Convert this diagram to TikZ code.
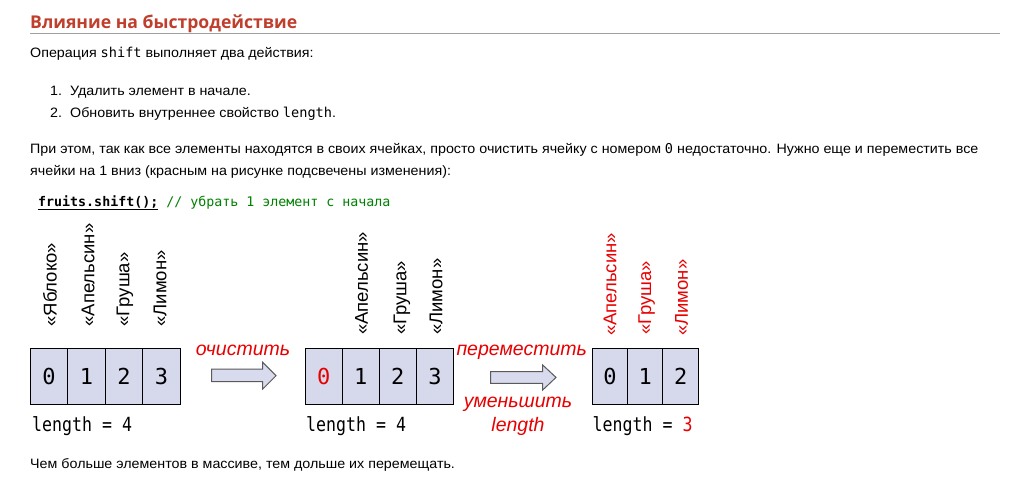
\documentclass[tikz,border=0pt]{standalone}
\usepackage{fontspec}
\setmainfont{Liberation Sans}
\newfontfamily\bodyfont[FakeStretch=1.05]{Liberation Sans}
\newfontfamily\titlefont{Open Sans}
\newfontfamily\codefont{DejaVu Sans Mono}
\newfontfamily\bigcode[FakeStretch=0.85]{DejaVu Sans Mono}
\definecolor{titlered}{RGB}{192,62,44}
\definecolor{rulegray}{RGB}{160,160,160}
\definecolor{cellfill}{RGB}{214,217,236}
\definecolor{arrowfill}{RGB}{216,218,238}
\definecolor{arrowline}{RGB}{90,90,90}
\definecolor{hlred}{RGB}{232,0,0}
\definecolor{codegreen}{RGB}{0,128,0}
\begin{document}
\begin{tikzpicture}[x=1pt,y=-1pt,
  txt/.style={anchor=base west,inner sep=0pt,font=\bodyfont\fontsize{13.6}{16}\selectfont},
  cellbox/.style={draw=black,line width=1pt,fill=cellfill,minimum height=55.7pt,inner sep=0pt,font=\codefont\fontsize{22}{26}\selectfont},
  fruit/.style={rotate=90,anchor=west,inner sep=0pt,font=\fontsize{18.5}{22}\selectfont},
  act/.style={anchor=base,inner sep=0pt,text=hlred,font=\itshape\fontsize{19.5}{23}\selectfont},
  lentxt/.style={anchor=base west,inner sep=0pt,font=\bigcode\fontsize{19.5}{24}\selectfont},
  blockarrow/.style={draw=arrowline,line width=1pt,fill=arrowfill,line join=miter}]
\useasboundingbox (0,0) rectangle (1019,479);
\fill[white] (0,0) rectangle (1019,479);

% heading
\node[txt,text=titlered,font=\titlefont\bfseries\fontsize{17.6}{21}\selectfont] (title) at (30,28.3) {Влияние на быстродействие};
\draw[rulegray,line width=1pt] (30,33.3) -- (1000,33.3);

% text
\node[txt] (p1) at (30,57) {Операция {\codefont shift} выполняет два действия:};
\node[txt] (n1) at (50,95) {1.};
\node[txt] (i1) at (70,95) {Удалить элемент в начале.};
\node[txt] (n2) at (50,117) {2.};
\node[txt] (i2) at (70,117) {Обновить внутреннее свойство {\codefont length}.};
\node[txt] (p2a) at (30,153) {При этом, так как все элементы находятся в своих ячейках, просто очистить ячейку с номером {\codefont 0} недостаточно. Нужно еще и переместить все};
\node[txt] (p2b) at (30,175.5) {ячейки на 1 вниз (красным на рисунке подсвечены изменения):};
\node[txt,font=\codefont\fontsize{13.3}{16}\selectfont] (code) at (38,206) {\textbf{\underline{fruits.shift();}} \textcolor{codegreen}{// убрать 1 элемент с начала}};
\node[txt] (last) at (30,468) {Чем больше элементов в массиве, тем дольше их перемещать.};

% array 1
\node[cellbox,minimum width=37.5pt] (a0) at (49.05,376.15) {0};
\node[cellbox,minimum width=37.5pt] (a1) at (86.55,376.15) {1};
\node[cellbox,minimum width=37.5pt] (a2) at (124.05,376.15) {2};
\node[cellbox,minimum width=37.5pt] (a3) at (161.55,376.15) {3};
\node[fruit] (fa0) at (50,326.7) {«Яблоко»};
\node[fruit] (fa1) at (88,326.7) {«Апельсин»};
\node[fruit] (fa2) at (125,326.7) {«Груша»};
\node[fruit] (fa3) at (160,326.7) {«Лимон»};
\node[lentxt] (lena) at (32,431) {length = 4};

% arrow 1
\draw[blockarrow] (211.7,369) -- (262.7,369) -- (262.7,362.3) -- (276,375.7) -- (262.7,389) -- (262.7,381.7) -- (211.7,381.7) -- cycle;
\node[act] (clr) at (243,355) {очистить};

% array 2
\node[cellbox,minimum width=37.1pt] (b0) at (323.65,376.15) {\textcolor{hlred}{0}};
\node[cellbox,minimum width=37.1pt] (b1) at (360.75,376.15) {1};
\node[cellbox,minimum width=37.1pt] (b2) at (397.85,376.15) {2};
\node[cellbox,minimum width=37.1pt] (b3) at (434.95,376.15) {3};
\node[fruit] (fb1) at (361.7,335) {«Апельсин»};
\node[fruit] (fb2) at (402,335) {«Груша»};
\node[fruit] (fb3) at (436,335) {«Лимон»};
\node[lentxt] (lenb) at (306,431) {length = 4};

% arrow 2
\draw[blockarrow] (490.7,371.7) -- (542.7,371.7) -- (542.7,365) -- (556,377.4) -- (542.7,390) -- (542.7,383.3) -- (490.7,383.3) -- cycle;
\node[act] (mv) at (521.7,355) {переместить};
\node[act] (dec) at (518,407.5) {уменьшить};
\node[act] (decl) at (518,431.7) {length};

% array 3
\node[cellbox,minimum width=35.33pt] (c0) at (609.97,376.15) {0};
\node[cellbox,minimum width=35.33pt] (c1) at (645.3,376.15) {1};
\node[cellbox,minimum width=35.33pt] (c2) at (680.63,376.15) {2};
\node[fruit,text=hlred] (fc0) at (610,336) {«Апельсин»};
\node[fruit,text=hlred] (fc1) at (646.7,335) {«Груша»};
\node[fruit,text=hlred] (fc2) at (681.7,336) {«Лимон»};
\node[lentxt] (lenc) at (592.5,431) {length = \textcolor{hlred}{3}};
\end{tikzpicture}
\end{document}
